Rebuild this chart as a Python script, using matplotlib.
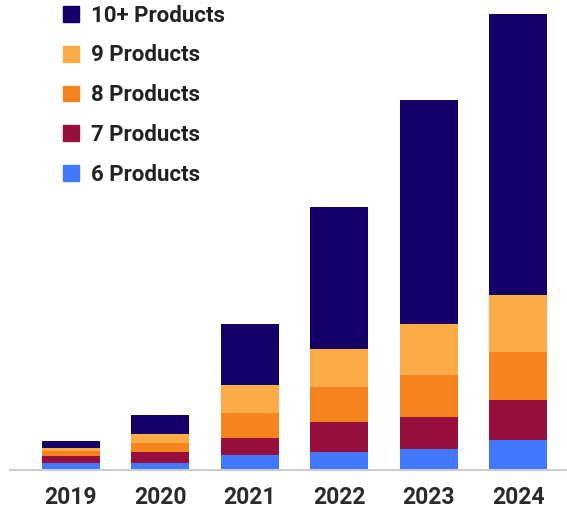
import matplotlib
matplotlib.use("Agg")
import matplotlib.pyplot as plt
from matplotlib.patches import Patch

# Values (relative bar heights)
years = ["2019", "2020", "2021", "2022", "2023", "2024"]
p6 = [6.7, 6.7, 14.7, 17.7, 21.0, 30.0]
p7 = [7.3, 11.0, 17.7, 30.6, 32.3, 40.0]
p8 = [5.3, 9.0, 24.3, 35.0, 42.0, 48.3]
p9 = [2.4, 9.0, 28.0, 37.4, 50.7, 56.3]
p10 = [7.0, 19.3, 61.7, 142.0, 224.0, 281.3]

series = [p6, p7, p8, p9, p10]
labels = ["6 Products", "7 Products", "8 Products", "9 Products", "10+ Products"]
colors = ["#4178FE", "#970F3C", "#F5841F", "#FBAC47", "#140068"]

plt.rcParams["font.family"] = ["Roboto", "DejaVu Sans"]

fig = plt.figure(figsize=(5.67, 5.09), dpi=100)
ax = fig.add_axes([10 / 567, 39 / 509, 557 / 567, 460 / 509])

x = range(len(years))
bottom = [0] * len(years)
for vals, lab, col in zip(series, labels, colors):
    ax.bar(x, vals, bottom=bottom, width=0.65, color=col, label=lab)
    bottom = [b + v for b, v in zip(bottom, vals)]

ax.set_xlim(-0.682, 5.548)
ax.set_ylim(0, 460)
ax.set_xticks(list(x))
ax.set_xticklabels(years, fontsize=16.5, fontweight="bold", color="#2b2b2b")
ax.tick_params(axis="x", length=0, pad=11.5)
ax.set_yticks([])
for s in ["top", "left", "right"]:
    ax.spines[s].set_visible(False)
ax.spines["bottom"].set_color("#cccccc")
ax.spines["bottom"].set_linewidth(1.5)

handles = [Patch(color=c, label=l) for c, l in zip(colors[::-1], labels[::-1])]
leg = ax.legend(handles=handles, loc="upper left", bbox_to_anchor=(0.059, 1.055),
                frameon=False, handlelength=0.72, handleheight=0.72,
                handletextpad=0.54, labelspacing=0.8,
                prop={"size": 16, "weight": "bold"})
for t in leg.get_texts():
    t.set_color("#222222")

fig.savefig("out.png", dpi=100)
